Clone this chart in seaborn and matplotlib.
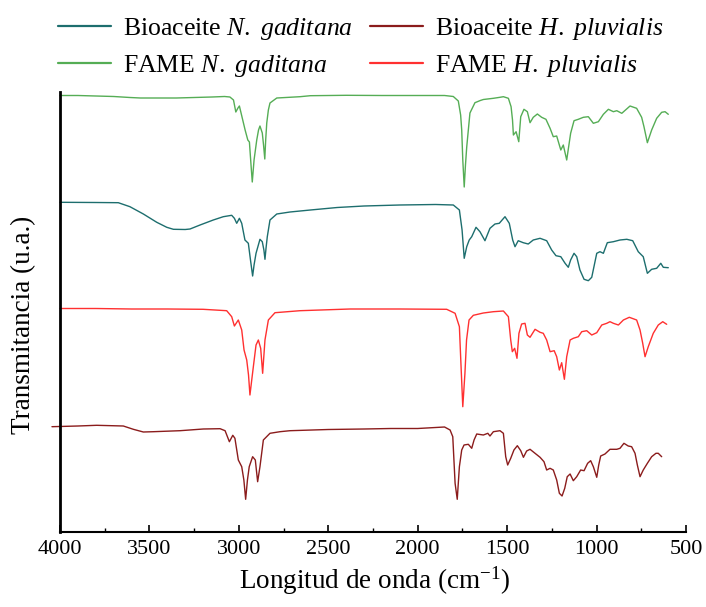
import numpy as np
import pandas as pd
import matplotlib
matplotlib.use("Agg")
import matplotlib.pyplot as plt
from matplotlib.lines import Line2D
from matplotlib.ticker import MultipleLocator
import seaborn as sns

# ---- FTIR spectra, stacked transmittance (a.u.) vs wavenumber (cm-1) ----
fame_ng_wn = [4000, 3900, 3800, 3700, 3609, 3550, 3450, 3350, 3250, 3150, 3080, 3050, 3030, 3017,
              3005, 2997, 2985, 2965, 2950, 2941, 2932, 2925, 2915, 2900, 2890, 2882, 2869, 2862,
              2855, 2850, 2844, 2835, 2826, 2788, 2658, 2600, 2400, 2200, 2000, 1850, 1801, 1773,
              1760, 1754, 1748, 1740, 1733, 1726, 1708, 1680, 1650, 1633, 1577, 1540, 1521, 1493,
              1478, 1470, 1465, 1450, 1435, 1424, 1406, 1387, 1372, 1354, 1331, 1307, 1283, 1260,
              1242, 1223, 1200, 1186, 1167, 1145, 1126, 1102, 1074, 1046, 1018, 990, 962, 934,
              906, 887, 859, 813, 776, 748, 735, 716, 692, 664, 636, 617, 599]
fame_ng_t = [436.5, 436.5, 436, 435.5, 434.5, 434, 434, 434, 434.5, 435, 435.5, 435, 432, 420,
             424, 426, 417, 402, 392, 390, 367, 350, 372, 392, 402, 406, 399, 387,
             373, 392, 409, 422, 429, 434, 435.3, 436.3, 436.7, 436.5, 436.5, 436.5, 435.5, 431,
             417, 402, 372, 345, 367, 385, 419, 429.3, 431.5, 432.5, 433.7, 434.7, 435.3, 433.7,
             425.3, 412, 397, 400.3, 390.3, 415.3, 422.7, 420.3, 409.3, 414.7, 418, 414.7, 412.7, 403.7,
             395.3, 396, 382, 387, 372, 398.7, 411.3, 412.7, 414.7, 415.3, 408.7, 410.3, 417.7, 422.7,
             420.3, 421.3, 418.7, 426, 423.7, 414.7, 405.3, 389.3, 402, 413.7, 419.7, 420.3, 417.7]

bio_ng_wn = [4000, 3800, 3674, 3609, 3534, 3459, 3403, 3366, 3300, 3273, 3217, 3143, 3087, 3040,
             3025, 3012, 2997, 2984, 2966, 2947, 2935, 2923, 2915, 2904, 2882, 2869, 2860, 2854,
             2848, 2841, 2826, 2788, 2714, 2600, 2450, 2300, 2100, 1900, 1801, 1767, 1752, 1740,
             1726, 1712, 1698, 1674, 1652, 1624, 1596, 1568, 1544, 1512, 1488, 1469, 1456, 1438,
             1410, 1382, 1354, 1316, 1279, 1251, 1227, 1200, 1176, 1158, 1145, 1126, 1111, 1093,
             1070, 1046, 1027, 999, 981, 962, 940, 906, 869, 831, 798, 767, 739, 716,
             692, 664, 641, 627, 599]
bio_ng_t = [329.7, 329.5, 329.3, 325.3, 318, 309.7, 304.7, 302.7, 302.5, 303, 307, 312, 315.3, 316.7,
            313.7, 308.7, 313.7, 308.7, 292, 288.7, 272, 256, 267, 278.7, 292.7, 290.3, 282, 272.7,
            284, 295.3, 312, 318, 320, 322, 324.5, 326, 327, 327.5, 327, 322, 302, 273.7,
            285.3, 292, 295.3, 304.7, 300.3, 291.3, 303.7, 308, 308.7, 315.3, 308.7, 292, 285.3, 291.3,
            289.3, 288, 292, 293.7, 291.3, 282, 276.3, 275.3, 268.7, 264.7, 272, 278.7, 275.3, 262,
            252.7, 251.3, 254.7, 278.7, 280.3, 278.7, 289.3, 290.3, 292, 292.7, 291.3, 280.3, 275.3, 258.7,
            262.7, 263.7, 268.7, 264.7, 264.3]

fame_hp_wn = [4000, 3800, 3600, 3400, 3200, 3068, 3040, 3025, 3003, 2984, 2971, 2956, 2946, 2938,
              2928, 2919, 2904, 2891, 2878, 2867, 2854, 2835, 2798, 2658, 2378, 2100, 1838, 1791,
              1767, 1760, 1748, 1736, 1727, 1713, 1689, 1633, 1577, 1521, 1493, 1480, 1471, 1458,
              1445, 1434, 1419, 1400, 1387, 1372, 1344, 1316, 1298, 1279, 1260, 1237, 1223, 1208,
              1195, 1180, 1167, 1148, 1130, 1102, 1083, 1055, 1027, 999, 971, 943, 925, 906,
              878, 850, 817, 776, 757, 742, 729, 711, 683, 655, 630, 608]
fame_hp_t = [223.5, 223.5, 223, 223, 222.7, 221.3, 215.3, 206, 212, 202, 182, 172, 157, 137,
             152, 165.3, 187, 192, 183.7, 158.7, 192, 212, 219.3, 221.3, 223, 223, 222.7, 218.7,
             205.3, 175.3, 125.3, 158.7, 192, 212, 216.7, 219, 220.3, 221, 215.3, 192, 180.3, 183.7,
             173.7, 198.7, 208, 208.7, 197, 194.7, 202.7, 199.7, 198.7, 192, 180.3, 181.3, 175.3, 162,
             169.3, 152.7, 175.3, 192, 193.7, 195.3, 200.3, 201.3, 197, 199.3, 207, 208.7, 210.3, 208.7,
             207, 212, 214.7, 212, 202, 188.7, 175.3, 185.3, 198.7, 207, 210.3, 207.7]

bio_hp_wn = [4045, 3900, 3795, 3646, 3590, 3534, 3478, 3329, 3199, 3105, 3077, 3053, 3034, 3022,
             3003, 2984, 2972, 2962, 2952, 2942, 2923, 2908, 2895, 2882, 2863, 2826, 2770, 2714,
             2500, 2300, 2150, 2000, 1850, 1819, 1804, 1791, 1779, 1767, 1754, 1741, 1717, 1698,
             1685, 1670, 1633, 1608, 1596, 1577, 1540, 1521, 1508, 1497, 1480, 1462, 1443, 1424,
             1409, 1391, 1372, 1344, 1316, 1294, 1279, 1260, 1242, 1223, 1208, 1193, 1178, 1164,
             1148, 1130, 1111, 1089, 1070, 1050, 1033, 1018, 999, 988, 977, 953, 925, 887,
             869, 847, 823, 804, 785, 772, 757, 739, 716, 692, 668, 655, 636]
bio_hp_t = [105.3, 106, 106.7, 106, 102.7, 100, 100.3, 101.3, 103, 103.3, 101.3, 90.3, 96.7, 93.7,
            72, 65.3, 52, 32.7, 52, 65.3, 75.3, 72, 50.3, 65.3, 92, 98.7, 100.3, 101.3,
            102.5, 103, 103.5, 103.5, 105, 102, 95.3, 48.7, 32.7, 65.3, 82, 87, 87.7, 83.7,
            92, 98, 97, 98.7, 96, 100.3, 101.3, 98.7, 75.3, 67, 73.7, 82, 86.3, 81.3,
            74.7, 81, 82.7, 78.7, 74.7, 70.3, 62, 63.7, 62, 52, 38.7, 36, 43.7, 55.3,
            58, 51.3, 55.3, 62, 61.3, 68.7, 71.3, 65.3, 54.7, 67, 76, 78, 82.7, 82.7,
            83.7, 88.7, 86, 85.3, 78.7, 67, 55.3, 62, 68.7, 75.3, 78.7, 78.7, 75.3]

series_names = ["Bioaceite N. gaditana", "FAME N. gaditana",
                "Bioaceite H. pluvialis", "FAME H. pluvialis"]
legend_labels = [r"Bioaceite $\mathit{N.\ gaditana}$", r"FAME $\mathit{N.\ gaditana}$",
                 r"Bioaceite $\mathit{H.\ pluvialis}$", r"FAME $\mathit{H.\ pluvialis}$"]
colors = ["#1d6e6e", "#55ad55", "#8b1c1c", "#ff3030"]
x_ticks = [4000, 3500, 3000, 2500, 2000, 1500, 1000, 500]

frames = []
for name, wn, t in [(series_names[0], bio_ng_wn, bio_ng_t),
                    (series_names[1], fame_ng_wn, fame_ng_t),
                    (series_names[2], bio_hp_wn, bio_hp_t),
                    (series_names[3], fame_hp_wn, fame_hp_t)]:
    frames.append(pd.DataFrame({"wn": wn, "t": t, "muestra": name}))
df = pd.concat(frames, ignore_index=True)

sns.set_style("ticks")
plt.rcParams["font.family"] = ["Liberation Serif", "DejaVu Serif"]
plt.rcParams["mathtext.fontset"] = "custom"
plt.rcParams["mathtext.rm"] = "Liberation Serif"
plt.rcParams["mathtext.it"] = "Liberation Serif:italic"
plt.rcParams["text.color"] = "black"
plt.rcParams["axes.labelcolor"] = "black"
plt.rcParams["xtick.color"] = "black"
plt.rcParams["xtick.labelcolor"] = "black"

fig = plt.figure(figsize=(7.06, 6.07), dpi=100)
ax = fig.add_axes([60 / 706, 1 - 532 / 607, 626 / 706, 440 / 607])

palette = dict(zip(series_names, colors))
sns.lineplot(data=df, x="wn", y="t", hue="muestra", palette=palette, estimator=None,
             sort=False, linewidth=1.0, legend=False, ax=ax)
for line in ax.lines:
    line.set_clip_on(False)

ax.set_xlim(4000, 500)
ax.set_ylim(0, 440)
ax.set_xticks(x_ticks)
ax.xaxis.set_minor_locator(MultipleLocator(250))
ax.set_yticks([])
ax.tick_params(axis="x", which="major", direction="in", length=5, width=1.2,
               labelsize=16, pad=6, colors="black")
ax.tick_params(axis="x", which="minor", direction="in", length=3, width=1.0, colors="black")
for side in ["top", "right"]:
    ax.spines[side].set_visible(False)
ax.spines["left"].set_linewidth(2.0)
ax.spines["bottom"].set_linewidth(1.5)
ax.spines["left"].set_color("black")
ax.spines["bottom"].set_color("black")

ax.set_xlabel(r"Longitud de onda (cm$^{-1}$)", fontsize=19.5, color="black")
ax.set_ylabel("Transmitancia (u.a.)", fontsize=19.5, color="black")
ax.xaxis.set_label_coords(0.503, -0.074)
ax.yaxis.set_label_coords(-0.038, 0.47)

handles = [Line2D([], [], color=palette[n], linewidth=1.6) for n in series_names]
leg = fig.legend(handles, legend_labels, loc="center", bbox_to_anchor=(0.511, 0.9217),
                 ncol=2, frameon=False, fontsize=18.5, handlelength=2.05, handletextpad=0.45,
                 columnspacing=0.7, labelspacing=0.4, borderpad=0)
for txt in leg.get_texts():
    txt.set_color("black")

fig.savefig("out.png", dpi=100)
